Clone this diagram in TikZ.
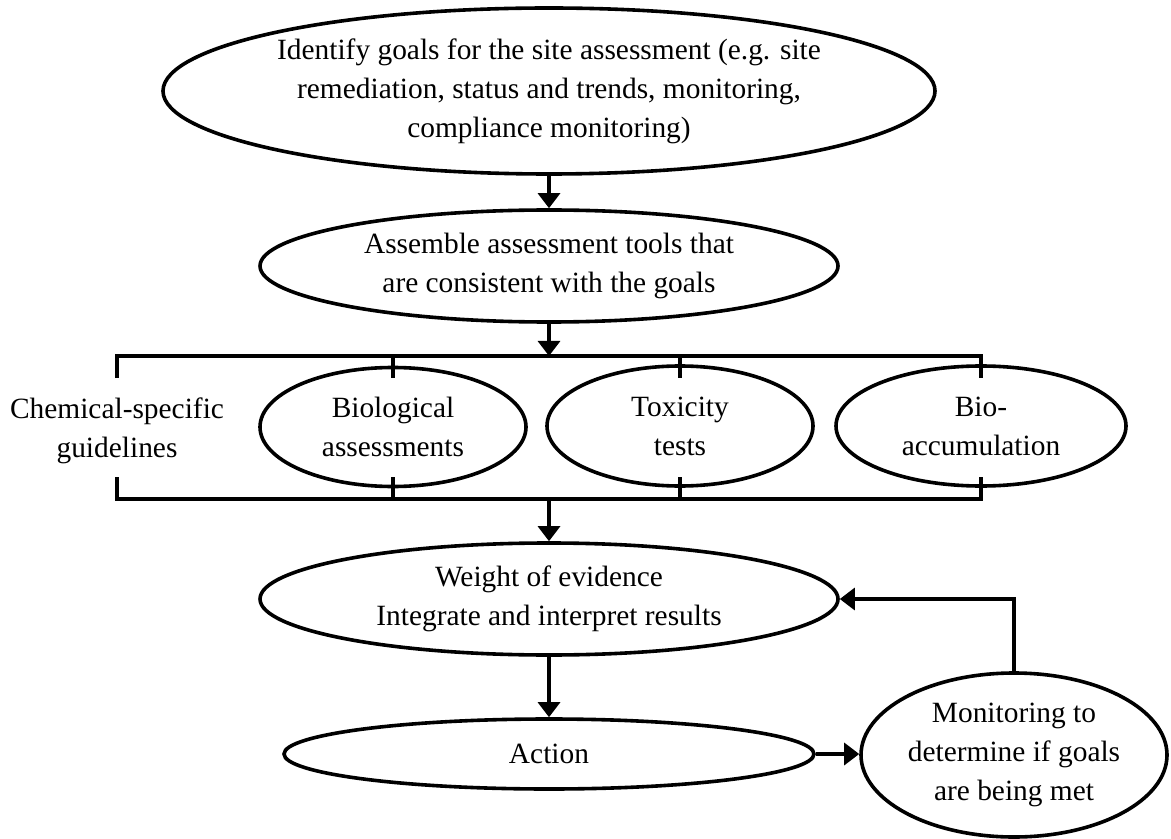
\documentclass[tikz,border=0pt]{standalone}
\usepackage{fontspec}
\setmainfont{Liberation Serif}
\usepackage{tikz}
\usetikzlibrary{shapes, arrows.meta, positioning, calc}

\tikzset{
  goal/.style={draw, ellipse, line width=1.8pt, inner sep=0pt, align=center},
  flow/.style={-{Triangle[length=7.5pt, width=11pt]}, line width=1.6pt},
  brace/.style={line width=1.8pt}
}

\begin{document}
\begin{tikzpicture}[x=0.5pt, y=-0.5pt, font=\fontsize{14.7pt}{19.5pt}\selectfont]
  \useasboundingbox (0,0) rectangle (1171,839);

  \node[goal, minimum width=386pt, minimum height=83pt] (goals) at (549,91)
    {Identify goals for the site assessment (e.g. site\\remediation, status and trends, monitoring,\\compliance monitoring)};
  \node[goal, minimum width=289pt, minimum height=56pt] (tools) at (549,266)
    {Assemble assessment tools that\\are consistent with the goals};

  \node[align=center] (chem) at (117,431) {Chemical-specific\\guidelines};
  \node[goal, minimum width=133pt, minimum height=59.5pt] (bio) at (393,427) {Biological\\assessments};
  \node[goal, minimum width=133pt, minimum height=60pt] (tox) at (680,426) {Toxicity\\tests};
  \node[goal, minimum width=145pt, minimum height=60pt] (accu) at (981,426) {Bio-\\accumulation};

  \node[goal, minimum width=289pt, minimum height=56pt] (woe) at (549,599)
    {Weight of evidence\\Integrate and interpret results};
  \node[goal, minimum width=265pt, minimum height=35pt] (act) at (549,754) {Action};
  \node[goal, minimum width=153pt, minimum height=82pt] (mon) at (1014,755)
    {Monitoring to\\determine if goals\\are being met};

  \coordinate (brtop) at (549,356);
  \coordinate (brbot) at (549,499);

  \draw[brace] (chem.center |- brtop) ++(0,22) -- (chem.center |- brtop) -- (accu.center |- brtop) -- ++(0,22);
  \draw[brace] (chem.center |- brbot) ++(0,-22) -- (chem.center |- brbot) -- (accu.center |- brbot) -- ++(0,-22);
  \foreach \n in {bio, tox} {
    \draw[brace] (\n.center |- brtop) -- ++(0,22);
    \draw[brace] (\n.center |- brbot) -- ++(0,-22);
  }

  \draw[flow] (goals.south) -- (tools.north);
  \draw[flow] (tools.south) -- (brtop);
  \draw[flow] (brbot) -- (woe.north);
  \draw[flow] (woe.south) -- (act.north);
  \draw[flow] (act.east) -- (act.east -| mon.west);
  \draw[flow] (mon.north) |- (woe.east);
\end{tikzpicture}
\end{document}
